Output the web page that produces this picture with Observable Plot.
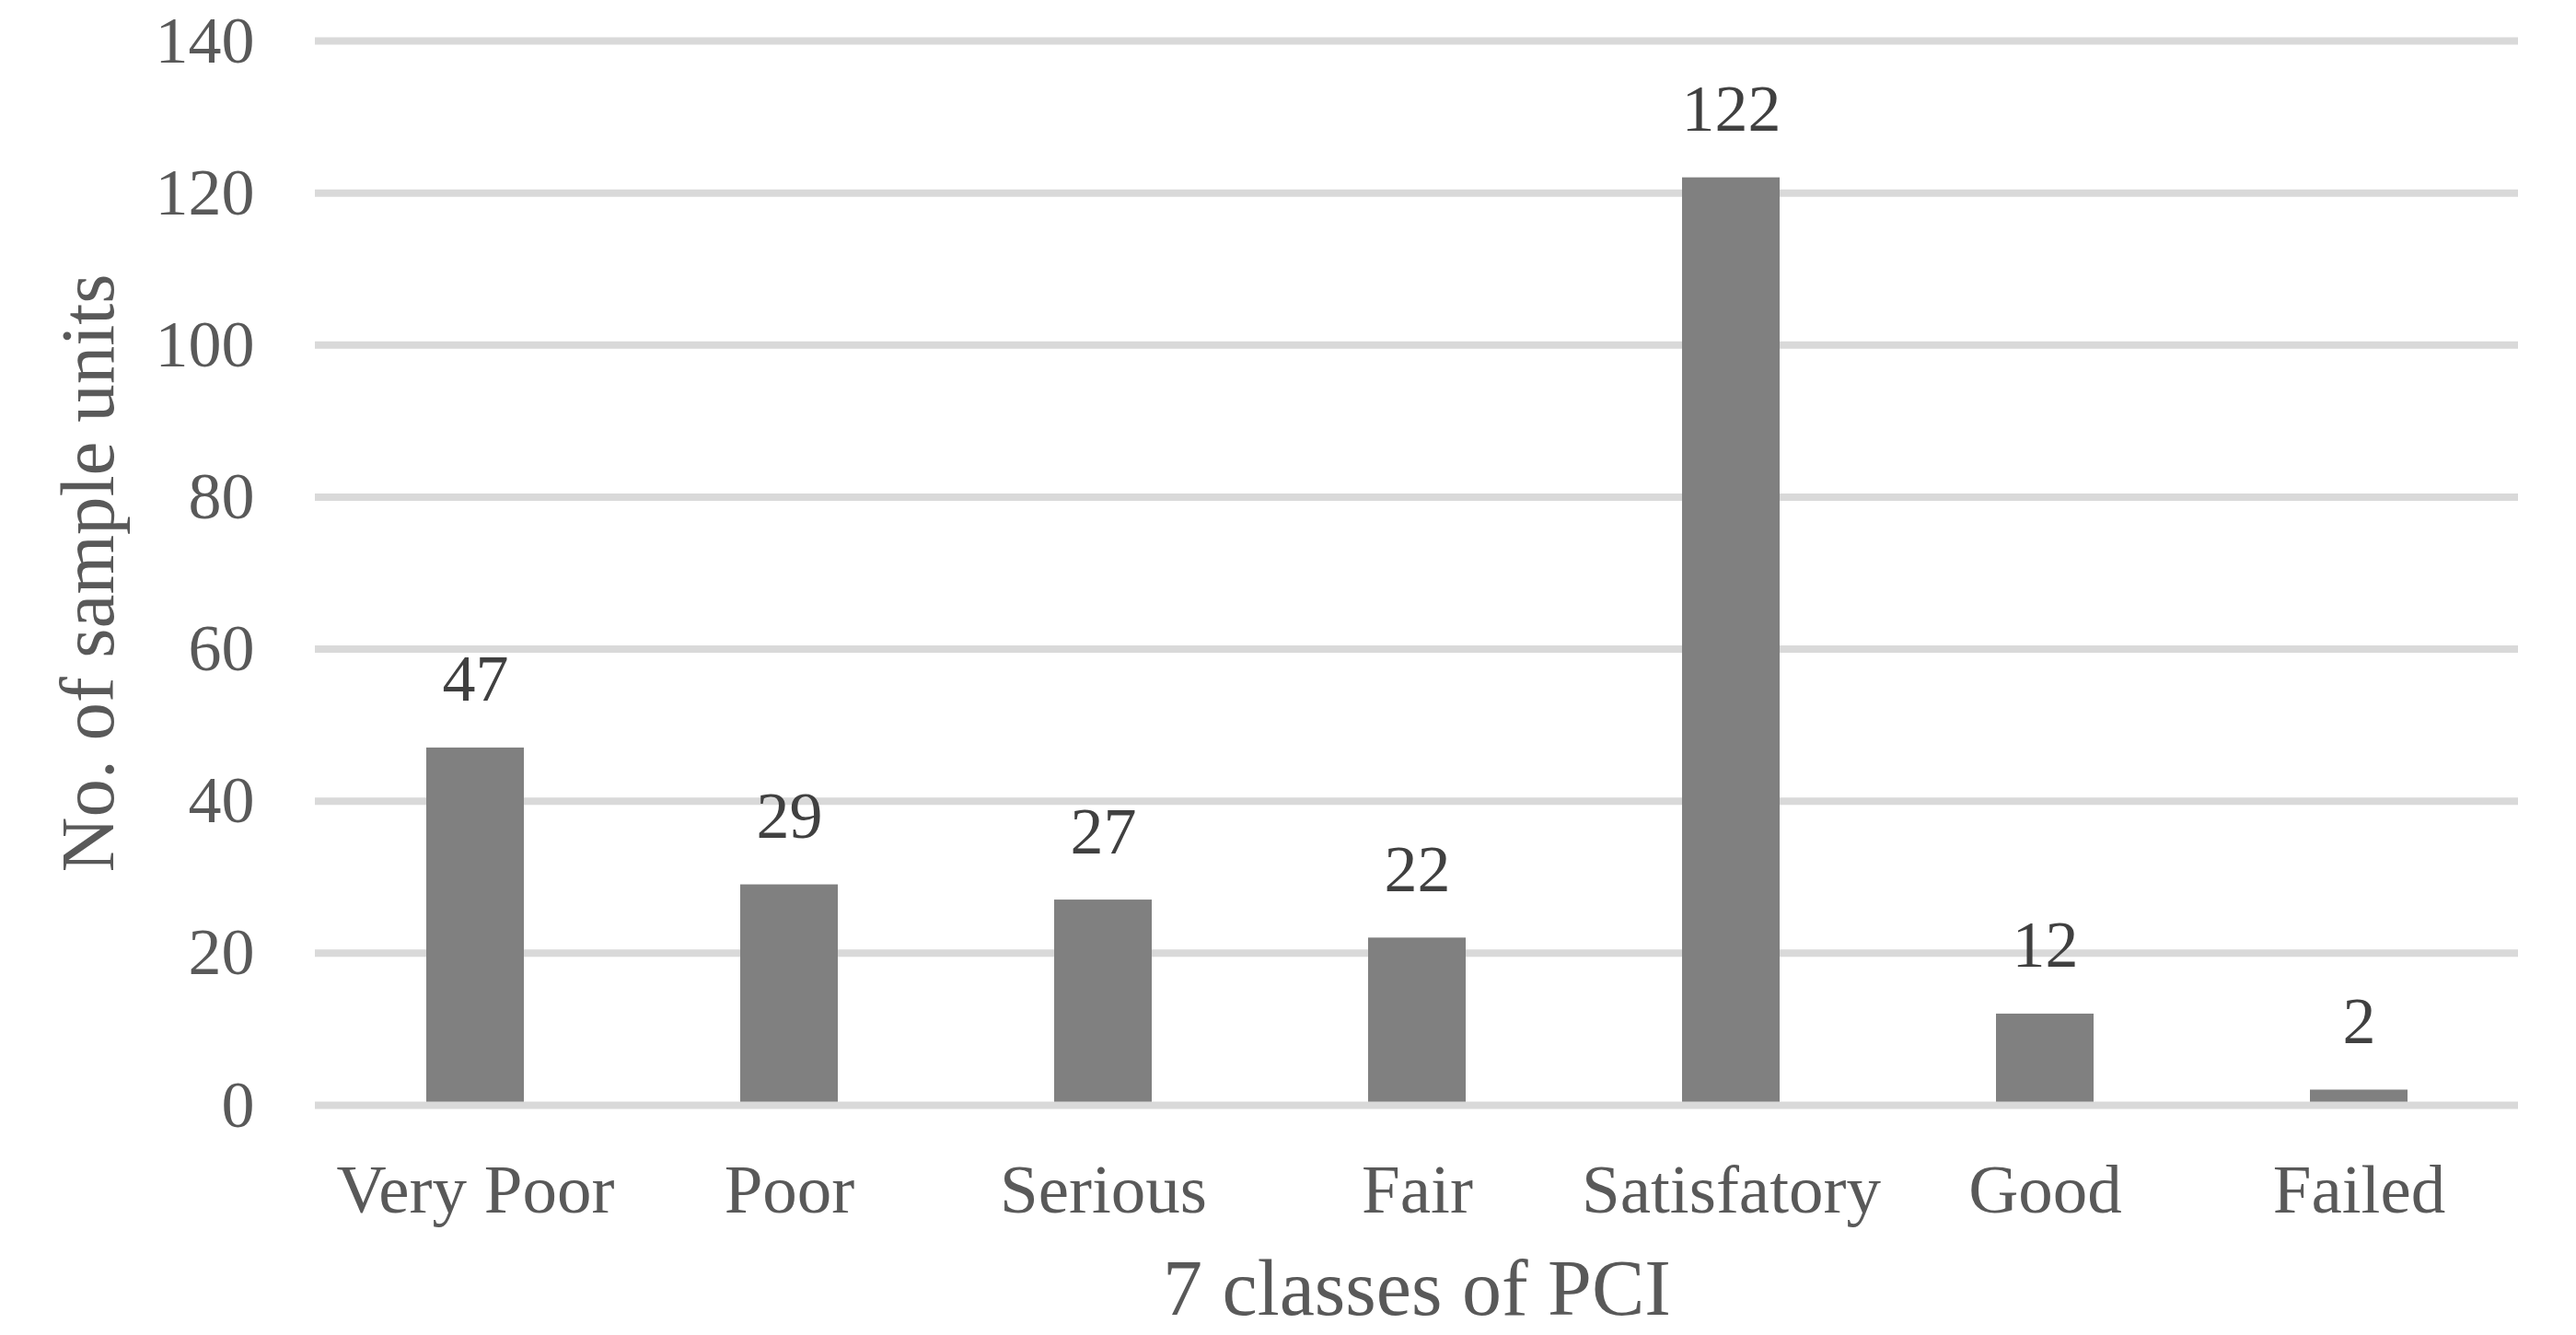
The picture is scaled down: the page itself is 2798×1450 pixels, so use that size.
<!DOCTYPE html>
<html>
<head>
<meta charset="utf-8">
<script src="https://cdn.jsdelivr.net/npm/d3@7"></script>
<script src="https://cdn.jsdelivr.net/npm/@observablehq/plot@0.6"></script>
<style>
  html, body { margin: 0; padding: 0; background: #ffffff; }
  #chart svg { display: block; }
</style>
</head>
<body>
<div id="chart"></div>
<script>
const categories = ["Very Poor", "Poor", "Serious", "Fair", "Satisfatory", "Good", "Failed"];
const counts = [47, 29, 27, 22, 122, 12, 2];
const yTicks = [0, 20, 40, 60, 80, 100, 120, 140];
const xTitle = "7 classes of PCI";
const yTitle = "No. of sample units";

const data = categories.map((c, i) => ({category: c, count: counts[i]}));

const chart = Plot.plot({
  width: 2798,
  height: 1450,
  marginTop: 44,
  marginBottom: 250,
  marginLeft: 342,
  marginRight: 63,
  style: {fontFamily: "'Liberation Serif', 'Times New Roman', serif", color: "#595959", background: "#ffffff"},
  x: {domain: categories, paddingInner: 0.69, paddingOuter: 0.345, label: null},
  y: {domain: [0, 140], label: null},
  marks: [
    Plot.ruleY(yTicks.filter(d => d > 0), {stroke: "#d9d9d9", strokeWidth: 8}),
    Plot.barY(data, {x: "category", y: "count", fill: "#808080"}),
    Plot.ruleY([0], {stroke: "#d9d9d9", strokeWidth: 8}),
    Plot.text(data, {x: "category", y: "count", text: d => String(d.count), dy: -51, lineAnchor: "bottom", fontSize: 72, fill: "#404040"}),
    Plot.axisY({ticks: yTicks, tickSize: 0, tickPadding: 66, fontSize: 72, label: null, fill: "#595959"}),
    Plot.axisX({tickSize: 0, tickPadding: 63, fontSize: 75, label: null, fill: "#595959"}),
    Plot.text([xTitle], {frameAnchor: "bottom", dy: 227, lineAnchor: "bottom", textAnchor: "middle", fontSize: 86, fill: "#595959"}),
    Plot.text([yTitle], {frameAnchor: "left", dx: -246, rotate: -90, textAnchor: "middle", lineAnchor: "middle", fontSize: 83, fill: "#595959"})
  ]
});
document.getElementById("chart").appendChild(chart);
</script>
</body>
</html>
